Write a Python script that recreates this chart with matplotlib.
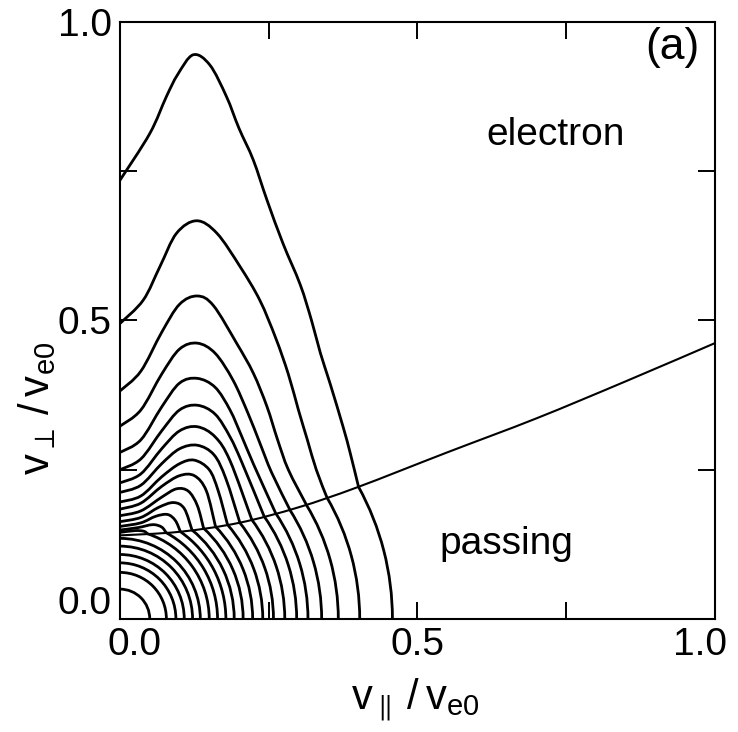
import numpy as np
import matplotlib
matplotlib.use("Agg")
import matplotlib.pyplot as plt
from matplotlib.path import Path
from matplotlib.patches import PathPatch, Arc
from matplotlib.transforms import ScaledTranslation

plt.rcParams['font.family'] = ['Liberation Sans', 'DejaVu Sans']
plt.rcParams['mathtext.fontset'] = 'custom'
plt.rcParams['mathtext.rm'] = 'Liberation Sans'

# trapped / passing boundary
boundary_x = [0.0, 0.1, 0.2, 0.3, 0.4, 0.55, 0.7, 0.85, 1.0]
boundary_y = [0.140, 0.146, 0.161, 0.187, 0.221, 0.279, 0.336, 0.398, 0.462]

# closed quarter-circle contours near the origin (radius)
closed_r = [0.050, 0.078, 0.094, 0.108, 0.122, 0.135]

# contours crossing the boundary: radius of the passing-region arc (v_par intercept)
foot_r = [0.458, 0.403, 0.367, 0.339, 0.316, 0.297, 0.277, 0.258,
          0.240, 0.223, 0.207, 0.192, 0.178, 0.164, 0.150]

# trapped-region branches, (v_par, v_perp) from the v_perp axis towards the boundary
c01 = [(0, 0.735), (0.05, 0.813), (0.078, 0.875), (0.097, 0.912), (0.123, 0.945),
       (0.151, 0.928), (0.179, 0.875), (0.200, 0.822), (0.224, 0.769), (0.247, 0.702),
       (0.274, 0.629), (0.303, 0.560), (0.322, 0.500), (0.337, 0.445), (0.353, 0.395),
       (0.375, 0.322), (0.387, 0.278)]
c02 = [(0, 0.495), (0.039, 0.534), (0.067, 0.590), (0.095, 0.646), (0.129, 0.667),
       (0.163, 0.646), (0.202, 0.590), (0.235, 0.534), (0.262, 0.470), (0.283, 0.410),
       (0.300, 0.350), (0.315, 0.300), (0.330, 0.250)]
c03 = [(0, 0.382), (0.035, 0.415), (0.07, 0.480), (0.100, 0.527), (0.130, 0.541),
       (0.157, 0.525), (0.196, 0.462), (0.224, 0.412), (0.247, 0.356), (0.265, 0.300),
       (0.283, 0.250)]
c04 = [(0, 0.323), (0.035, 0.350), (0.07, 0.410), (0.100, 0.452), (0.130, 0.462),
       (0.160, 0.445), (0.190, 0.400), (0.215, 0.345), (0.235, 0.295), (0.255, 0.245)]
c05 = [(0, 0.279), (0.035, 0.300), (0.07, 0.355), (0.100, 0.395), (0.130, 0.403),
       (0.160, 0.388), (0.185, 0.350), (0.205, 0.305), (0.225, 0.258)]
c06 = [(0, 0.250), (0.035, 0.268), (0.07, 0.315), (0.100, 0.350), (0.130, 0.358),
       (0.160, 0.343), (0.185, 0.305), (0.205, 0.262)]
c07 = [(0, 0.228), (0.035, 0.243), (0.07, 0.285), (0.100, 0.315), (0.130, 0.322),
       (0.160, 0.305), (0.185, 0.265)]
c08 = [(0, 0.212), (0.035, 0.224), (0.07, 0.260), (0.100, 0.285), (0.130, 0.291),
       (0.158, 0.275), (0.178, 0.235)]
c09 = [(0, 0.196), (0.035, 0.206), (0.07, 0.238), (0.100, 0.260), (0.125, 0.266),
       (0.150, 0.250), (0.165, 0.215)]
c10 = [(0, 0.184), (0.035, 0.194), (0.07, 0.222), (0.100, 0.240), (0.125, 0.240),
       (0.145, 0.215)]
c11 = [(0, 0.173), (0.035, 0.181), (0.07, 0.204), (0.095, 0.218), (0.115, 0.214),
       (0.130, 0.190)]
c12 = [(0, 0.163), (0.035, 0.170), (0.065, 0.187), (0.090, 0.195), (0.108, 0.185)]
c13 = [(0, 0.155), (0.035, 0.161), (0.060, 0.172), (0.080, 0.175), (0.093, 0.165)]
c14 = [(0, 0.149), (0.030, 0.153), (0.055, 0.158), (0.070, 0.154)]
c15 = [(0, 0.145), (0.025, 0.148), (0.040, 0.147)]
trapped = [c01, c02, c03, c04, c05, c06, c07, c08, c09, c10, c11, c12, c13, c14, c15]


def smooth_path(pts):
    # Catmull-Rom through the read points, handed to matplotlib as cubic Beziers
    p = np.asarray(pts, dtype=float)
    verts = [p[0]]
    codes = [Path.MOVETO]
    n = len(p)
    for i in range(n - 1):
        p0 = p[i - 1] if i > 0 else p[i]
        p1, p2 = p[i], p[i + 1]
        p3 = p[i + 2] if i + 2 < n else p[i + 1]
        verts += [p1 + (p2 - p0) / 6, p2 - (p3 - p1) / 6, p2]
        codes += [Path.CURVE4] * 3
    return Path(verts, codes)


def boundary_crossing(r):
    xs = np.linspace(0, 1, 4001)
    d = xs ** 2 + np.interp(xs, boundary_x, boundary_y) ** 2 - r ** 2
    i = np.argmax(d > 0)
    return xs[i], np.interp(xs[i], boundary_x, boundary_y)


fig = plt.figure(figsize=(7.38, 7.32), dpi=100)
ax = fig.add_axes([0.1626, 0.1544, 0.806, 0.8156])
lw = 2.0

for r in closed_r:
    ax.add_patch(Arc((0, 0), 2 * r, 2 * r, theta1=0, theta2=90, lw=lw, color='black'))

for r, branch in zip(foot_r, trapped):
    xb, yb = boundary_crossing(r)
    ax.add_patch(PathPatch(smooth_path(branch + [(xb, yb)]), fill=False, lw=lw,
                           edgecolor='black'))
    ang = np.degrees(np.arctan2(yb, xb))
    ax.add_patch(Arc((0, 0), 2 * r, 2 * r, theta1=0, theta2=ang, lw=lw, color='black'))

ax.add_patch(PathPatch(smooth_path(list(zip(boundary_x, boundary_y))), fill=False,
                       lw=1.5, edgecolor='black'))

ax.set_xlim(0, 1)
ax.set_ylim(0, 1)
ax.set_xticks([0, 0.5, 1.0])
ax.set_yticks([0, 0.5, 1.0])
ax.set_xticks([0.25, 0.75], minor=True)
ax.set_yticks([0.25, 0.75], minor=True)
ax.set_xticklabels(['0.0', '0.5', '1.0'])
ax.set_yticklabels(['0.0', '0.5', '1.0'])
ax.tick_params(which='both', direction='in', length=12, width=1.4, top=True, right=True,
               labelsize=28, pad=6)
for s in ax.spines.values():
    s.set_linewidth(1.5)

# nudge the corner labels apart like the original
xl = ax.get_xticklabels()
yl = ax.get_yticklabels()
xl[0].set_transform(xl[0].get_transform() + ScaledTranslation(0.15, 0, fig.dpi_scale_trans))
xl[2].set_transform(xl[2].get_transform() + ScaledTranslation(-0.15, 0, fig.dpi_scale_trans))
yl[0].set_transform(yl[0].get_transform() + ScaledTranslation(0, 0.19, fig.dpi_scale_trans))

ax.set_xlabel(r'$\mathregular{v_{\parallel}\,/\,v_{e0}}$', fontsize=30, va='center')
ax.set_ylabel(r'$\mathregular{v_{\perp}\,/\,v_{e0}}$', fontsize=30, va='center')
ax.xaxis.set_label_coords(0.496, -0.136)
ax.yaxis.set_label_coords(-0.14, 0.353)

ax.text(0.733, 0.81, 'electron', fontsize=28,
        ha='center', va='center', transform=ax.transAxes)
ax.text(0.65, 0.125, 'passing', fontsize=28,
        ha='center', va='center', transform=ax.transAxes)
ax.text(0.928, 0.958, '(a)', fontsize=32,
        ha='center', va='center', transform=ax.transAxes)

fig.savefig('out.png', dpi=100)
